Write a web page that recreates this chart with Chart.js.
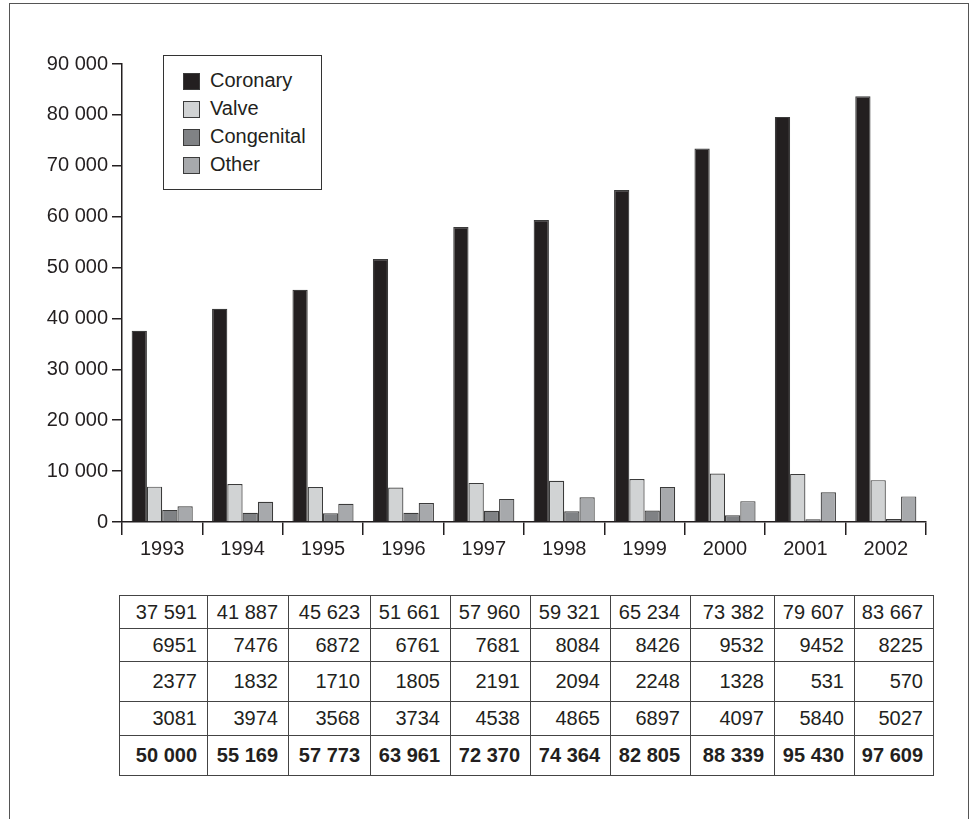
<!DOCTYPE html>
<html>
<head>
<meta charset="utf-8">
<script src="https://cdn.jsdelivr.net/npm/chart.js@4.4.1/dist/chart.umd.min.js"></script>
<style>
  html, body { margin: 0; padding: 0; background: #fff; }
  body { width: 971px; height: 819px; position: relative; overflow: hidden;
         font-family: "Liberation Sans", Arial, sans-serif; color: #231f20; }
  #frame { position: absolute; left: 9px; top: 3px; width: 958px; height: 830px;
           border: 1.5px solid #555; border-bottom: none; }
  #chartBox { position: absolute; left: 0; top: 0; }
  #legend { position: absolute; left: 163px; top: 55px; width: 157px; height: 133px;
            border: 1.5px solid #333; background: #fff; }
  #legend .item { position: absolute; left: 19px; height: 22px; font-size: 20px; line-height: 22px; }
  #legend .sw { position: absolute; left: 0; top: 3px; width: 15px; height: 15px; border: 1px solid #3b3b3b; }
  #legend .lb { position: absolute; left: 27px; top: -1px; white-space: nowrap; }
  #tbl { position: absolute; left: 119px; top: 595px; border-collapse: collapse; font-size: 20px; table-layout: fixed; }
  #tbl td { border: 1.5px solid #444; text-align: right; padding: 0 10px 0 0; box-sizing: border-box; white-space: nowrap; }
  #tbl tr.b td { font-weight: bold; }
</style>
</head>
<body>
<div id="frame"></div>
<div id="chartBox"><canvas id="c" width="971" height="580"></canvas></div>
<div id="legend"></div>
<table id="tbl"></table>
<script>
// data
const years      = ['1993', '1994', '1995', '1996', '1997', '1998', '1999', '2000', '2001', '2002']
const coronary   = [37591, 41887, 45623, 51661, 57960, 59321, 65234, 73382, 79607, 83667]
const valve      = [6951, 7476, 6872, 6761, 7681, 8084, 8426, 9532, 9452, 8225]
const congenital = [2377, 1832, 1710, 1805, 2191, 2094, 2248, 1328, 531, 570]
const other      = [3081, 3974, 3568, 3734, 4538, 4865, 6897, 4097, 5840, 5027]
const totals     = [50000, 55169, 57773, 63961, 72370, 74364, 82805, 88339, 95430, 97609]
const yTicks     = [0, 10000, 20000, 30000, 40000, 50000, 60000, 70000, 80000, 90000]

const FONT = '"Liberation Sans", Arial, sans-serif'
const INK  = '#231f20'

const series = [
  { label: 'Coronary',   data: coronary,   color: '#231f20' },
  { label: 'Valve',      data: valve,      color: '#d1d3d4' },
  { label: 'Congenital', data: congenital, color: '#808285' },
  { label: 'Other',      data: other,      color: '#a7a9ac' }
]

// space as thousands separator: 90 000
const fmt = v => String(v).replace(/\B(?=(\d{3})+(?!\d))/g, ' ')

new Chart(document.getElementById('c'), {
  type: 'bar',
  data: {
    labels: years,
    datasets: series.map(s => ({
      label: s.label, data: s.data, backgroundColor: s.color,
      borderColor: '#3b3b3b', borderWidth: 1.2, borderSkipped: 'bottom',
      categoryPercentage: 0.76, barPercentage: 1
    }))
  },
  options: {
    responsive: false, animation: false,
    layout: { padding: { top: 64, right: 45, bottom: 0, left: 0 } },
    plugins: { legend: { display: false }, tooltip: { enabled: false } },
    scales: {
      x: {
        grid: { drawOnChartArea: false, offset: true, color: INK, lineWidth: 1.5, tickLength: 13 },
        border: { color: INK, width: 1.5 },
        ticks: { color: INK, font: { family: FONT, size: 20 }, padding: 2, maxRotation: 0 },
        afterFit: s => { s.height = 58 }
      },
      y: {
        min: 0, max: 90000,
        afterBuildTicks: s => { s.ticks = yTicks.map(v => ({ value: v })) },
        grid: { drawOnChartArea: false, color: INK, lineWidth: 1.5, tickLength: 10 },
        border: { color: INK, width: 1.5 },
        ticks: { color: INK, font: { family: FONT, size: 20 }, padding: 4, callback: v => fmt(v) },
        afterFit: s => { s.width = 122 }
      }
    }
  }
})

// legend box
const legend = document.getElementById('legend')
series.forEach((s, i) => {
  const it = document.createElement('div')
  it.className = 'item'
  it.style.top = (14 + i * 28) + 'px'
  it.innerHTML = '<span class="sw" style="background:' + s.color + '"></span><span class="lb">' + s.label + '</span>'
  legend.appendChild(it)
})

// data table under the chart
const colW = [88, 81, 82, 80, 80, 80, 80, 84, 80, 79]
const rowH = [33, 33, 40, 34, 40]
const rows = [coronary, valve, congenital, other, totals]
const tbl = document.getElementById('tbl')
rows.forEach((r, ri) => {
  const tr = document.createElement('tr')
  if (ri === rows.length - 1) tr.className = 'b'
  r.forEach((v, ci) => {
    const td = document.createElement('td')
    td.style.width = colW[ci] + 'px'
    td.style.height = rowH[ri] + 'px'
    td.textContent = v >= 10000 ? fmt(v) : String(v)
    tr.appendChild(td)
  })
  tbl.appendChild(tr)
})
</script>
</body>
</html>
